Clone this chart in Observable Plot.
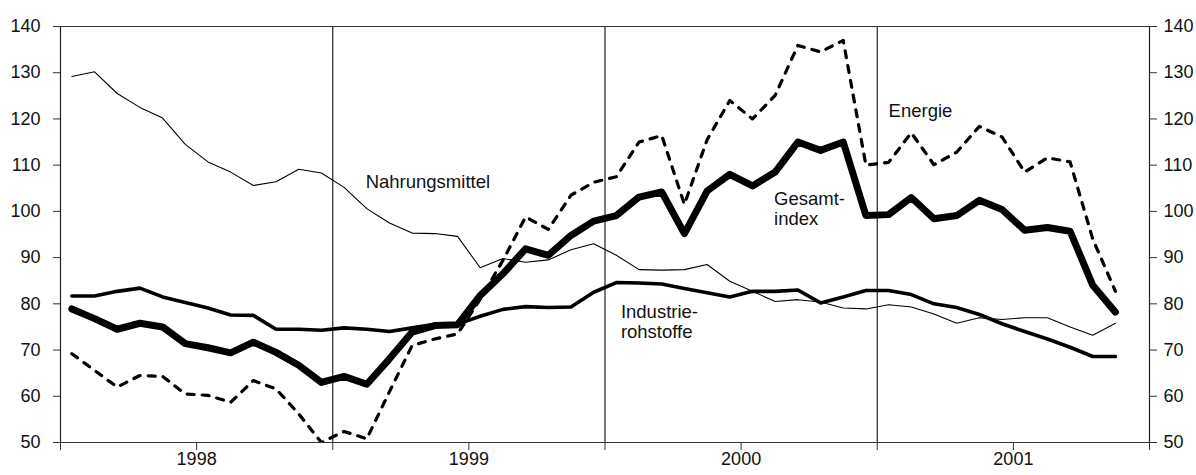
<!DOCTYPE html>
<html><head><meta charset="utf-8">
<script src="https://cdn.jsdelivr.net/npm/d3@7"></script>
<script src="https://cdn.jsdelivr.net/npm/@observablehq/plot@0.6"></script>
<style>body{margin:0;background:#fff} svg{display:block;background:#fff}</style>
</head><body><div id="chart"></div>
<script>
// Monthly values, Jan 1998 – Nov 2001 (index 0 = Jan 1998)
const years = ["1998", "1999", "2000", "2001"];
const yTicks = [50, 60, 70, 80, 90, 100, 110, 120, 130, 140];

const gesamtindex = [78.9, 76.8, 74.5, 75.8, 75.0, 71.4, 70.5, 69.4, 71.7, 69.5, 66.7, 63.0,
  64.3, 62.6, 68.1, 73.9, 75.3, 75.5, 81.8, 86.5, 91.9, 90.5, 94.8, 97.9,
  99.1, 103.1, 104.2, 95.2, 104.4, 108.0, 105.5, 108.5, 115.0, 113.2, 115.0, 99.1,
  99.3, 103.0, 98.4, 99.1, 102.4, 100.4, 95.9, 96.5, 95.7, 84.0, 78.2];

const industrierohstoffe = [81.7, 81.7, 82.7, 83.4, 81.5, 80.3, 79.1, 77.6, 77.5, 74.5, 74.5, 74.3,
  74.8, 74.5, 74.0, 74.8, 75.6, 75.6, 77.3, 78.8, 79.4, 79.2, 79.3, 82.5,
  84.6, 84.5, 84.3, 83.3, 82.4, 81.5, 82.7, 82.7, 83.0, 80.2, 81.5, 82.9,
  82.9, 82.0, 80.0, 79.2, 77.7, 75.7, 74.0, 72.4, 70.6, 68.6, 68.6];

const nahrungsmittel = [129.2, 130.2, 125.5, 122.5, 120.2, 114.5, 110.7, 108.5, 105.6, 106.4, 109.1, 108.3,
  105.2, 100.6, 97.5, 95.3, 95.2, 94.6, 87.8, 89.8, 89.0, 89.5, 91.7, 93.0,
  90.5, 87.4, 87.3, 87.4, 88.5, 84.9, 82.7, 80.5, 80.9, 80.4, 79.1, 78.9,
  79.8, 79.3, 77.8, 75.8, 77.0, 76.6, 77.0, 77.0, 75.0, 73.2, 75.8];

const energie = [69.2, 65.6, 62.0, 64.5, 64.3, 60.5, 60.2, 58.7, 63.4, 61.6, 56.2, 50.0,
  52.4, 50.8, 61.0, 71.0, 72.4, 73.5, 81.0, 89.4, 98.8, 96.1, 103.5, 106.3,
  107.5, 115.0, 116.4, 101.5, 115.5, 124.0, 120.0, 125.1, 135.9, 134.5, 137.0, 110.0,
  110.6, 117.0, 110.1, 112.8, 118.4, 116.1, 108.5, 111.6, 110.7, 94.0, 82.7];

const labelTexts = ["Nahrungsmittel", "Energie", "Gesamt-\nindex", "Industrie-\nrohstoffe"];
const labelMonth = [13.45, 36.5, 31.45, 24.7];
const labelValue = [106.5, 121.8, 100.7, 76.2];

const rows = (values) => values.map((v, i) => ({m: i + 0.5, v}));
const labels = labelTexts.map((t, i) => ({t, m: labelMonth[i], v: labelValue[i]}));

const chart = Plot.plot({
  width: 1196,
  height: 475,
  marginLeft: 60,
  marginRight: 47,
  marginTop: 26,
  marginBottom: 33,
  style: {fontFamily: "'Liberation Sans', Arial, sans-serif", fontSize: "18px", color: "#111", background: "#fff"},
  x: {domain: [0, 48]},
  y: {domain: [50, 140]},
  marks: [
    Plot.ruleX([0, 12, 24, 36, 48], {y1: 50, y2: 140, stroke: "#222", strokeWidth: 1.2}),
    Plot.ruleY([50, 140], {x1: 0, x2: 48, stroke: "#333", strokeWidth: 1.2}),
    Plot.axisY(yTicks, {anchor: "left", tickSize: 7, tickPadding: 13, stroke: "#333", fontSize: 18, label: null}),
    Plot.axisY(yTicks, {anchor: "right", tickSize: 7, tickPadding: 7, stroke: "#333", fontSize: 18, label: null}),
    Plot.axisX([6, 18, 30, 42], {tickFormat: (d) => years[Math.round((d - 6) / 12)], tickSize: 8, tickPadding: 2, stroke: "#333", fontSize: 18, label: null}),
    Plot.axisX([0, 12, 24, 36, 48], {tickFormat: () => "", tickSize: 8, stroke: "#333", label: null}),
    Plot.line(rows(nahrungsmittel), {x: "m", y: "v", stroke: "black", strokeWidth: 1.1}),
    Plot.line(rows(industrierohstoffe), {x: "m", y: "v", stroke: "black", strokeWidth: 3.6, strokeLinejoin: "round"}),
    Plot.line(rows(energie), {x: "m", y: "v", stroke: "black", strokeWidth: 3.2, strokeDasharray: "7,8", clip: true}),
    Plot.line(rows(gesamtindex), {x: "m", y: "v", stroke: "black", strokeWidth: 7, strokeLinejoin: "round"}),
    Plot.text(labels, {x: "m", y: "v", text: "t", textAnchor: "start", fontSize: 18.5, lineHeight: 1.08, fill: "#111"})
  ]
});
document.getElementById("chart").append(chart);
</script>
</body></html>
